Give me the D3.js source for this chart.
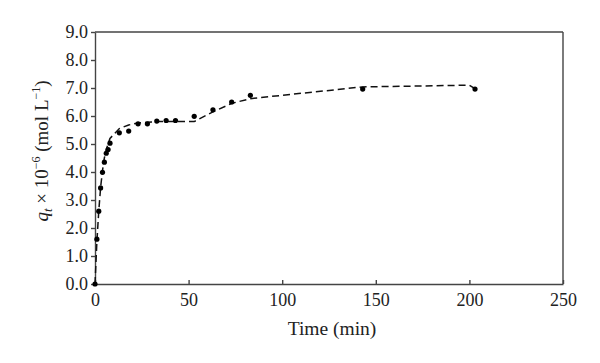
<!DOCTYPE html>
<html>
<head>
<meta charset="utf-8">
<script src="https://cdn.jsdelivr.net/npm/d3@7"></script>
<style>
  body { margin: 0; background: #fff; }
  svg { display: block; }
  .axis text { font-family: "Liberation Serif", "DejaVu Serif", serif; font-size: 18px; fill: #222; }
  .axis path, .axis line { stroke: #444; stroke-width: 1.4px; }
</style>
</head>
<body>
<svg class="chart"></svg>
<script>
// mesures (points) et courbe de modèle (tirets)
let timeData = [0, 1, 2, 3, 4, 5, 6, 7, 8, 13, 18, 23, 28, 33, 38, 43, 53, 63, 73, 83, 143, 203];
let qtData   = [0, 1.6, 2.6, 3.43, 3.99, 4.35, 4.67, 4.8, 5.03, 5.4, 5.46, 5.72, 5.72, 5.82, 5.84, 5.84, 5.99, 6.22, 6.5, 6.74, 6.96, 6.96];
let fitTime  = [0, 1, 2, 3, 4, 5, 6, 7, 8, 13, 18, 23, 28, 33, 38, 43, 53, 63, 73, 83, 143, 200, 203];
let fitQt    = [0, 1.5, 2.6, 3.45, 4.05, 4.5, 4.8, 5.0, 5.2, 5.55, 5.68, 5.75, 5.78, 5.8, 5.8, 5.8, 5.8, 6.15, 6.45, 6.62, 7.04, 7.1, 6.98];
let xTicks = [0, 50, 100, 150, 200, 250];
let yTicks = [0, 1, 2, 3, 4, 5, 6, 7, 8, 9];

let margin = {top: 32, right: 37, bottom: 79, left: 95};
let width = 600 - margin.left - margin.right;
let height = 363 - margin.top - margin.bottom;

let svg = d3.select(".chart")
    .attr("width", 600)
    .attr("height", 363);

let g = svg.append("g")
    .attr("transform", `translate(${margin.left}, ${margin.top})`);

let x = d3.scaleLinear().domain([0, 250]).range([0, width]);
let y = d3.scaleLinear().domain([0, 9]).range([height, 0]);

// cadre haut et droit
g.append("line").attr("x1", 0).attr("x2", width).attr("y1", 0).attr("y2", 0)
    .attr("stroke", "#444").attr("stroke-width", 1.4);
g.append("line").attr("x1", width).attr("x2", width).attr("y1", 0).attr("y2", height)
    .attr("stroke", "#444").attr("stroke-width", 1.4);

// axe x (graduations vers l'intérieur)
let gx = g.append("g")
    .attr("class", "axis")
    .attr("transform", `translate(0,${height})`)
    .call(d3.axisBottom(x).tickValues(xTicks).tickSize(-4).tickPadding(9).tickSizeOuter(0));
gx.selectAll("text").attr("dy", "0.71em");

// axe y
g.append("g")
    .attr("class", "axis")
    .call(d3.axisLeft(y).tickValues(yTicks).tickSize(4).tickPadding(3).tickSizeOuter(0)
        .tickFormat(d3.format(".1f")));

// titres des axes
svg.append("text")
    .attr("x", margin.left + width / 2 + 3)
    .attr("y", 335)
    .attr("text-anchor", "middle")
    .style("font-family", "Liberation Serif, DejaVu Serif, serif")
    .style("font-size", "19.5px")
    .attr("fill", "#222")
    .text("Time (min)");

let yl = svg.append("text")
    .attr("transform", "translate(48,151) rotate(-90)")
    .attr("text-anchor", "middle")
    .style("font-family", "Liberation Serif, DejaVu Serif, serif")
    .style("font-size", "19px")
    .attr("fill", "#222");
yl.append("tspan").style("font-style", "italic").text("q");
yl.append("tspan").style("font-style", "italic").style("font-size", "13px").attr("dy", 4).text("t");
yl.append("tspan").attr("dy", -4).text(" × 10");
yl.append("tspan").style("font-size", "12px").attr("dy", -8).text("−6");
yl.append("tspan").attr("dy", 8).text(" (mol L");
yl.append("tspan").style("font-size", "12px").attr("dy", -8).text("−1");
yl.append("tspan").attr("dy", 8).text(")");

// courbe en tirets
let fit = fitTime.map((t, i) => ({t: t, q: fitQt[i]}));
let line = d3.line().x(d => x(d.t)).y(d => y(d.q));
g.append("path")
    .datum(fit)
    .attr("d", line)
    .attr("fill", "none")
    .attr("stroke", "#111")
    .attr("stroke-width", 1.5)
    .attr("stroke-dasharray", "7,4");

// points
let pts = timeData.map((t, i) => ({t: t, q: qtData[i]}));
g.selectAll(".dot")
    .data(pts)
    .enter().append("circle")
    .attr("class", "dot")
    .attr("cx", d => x(d.t))
    .attr("cy", d => y(d.q))
    .attr("r", 2.6)
    .attr("fill", "#000");
</script>
</body>
</html>
